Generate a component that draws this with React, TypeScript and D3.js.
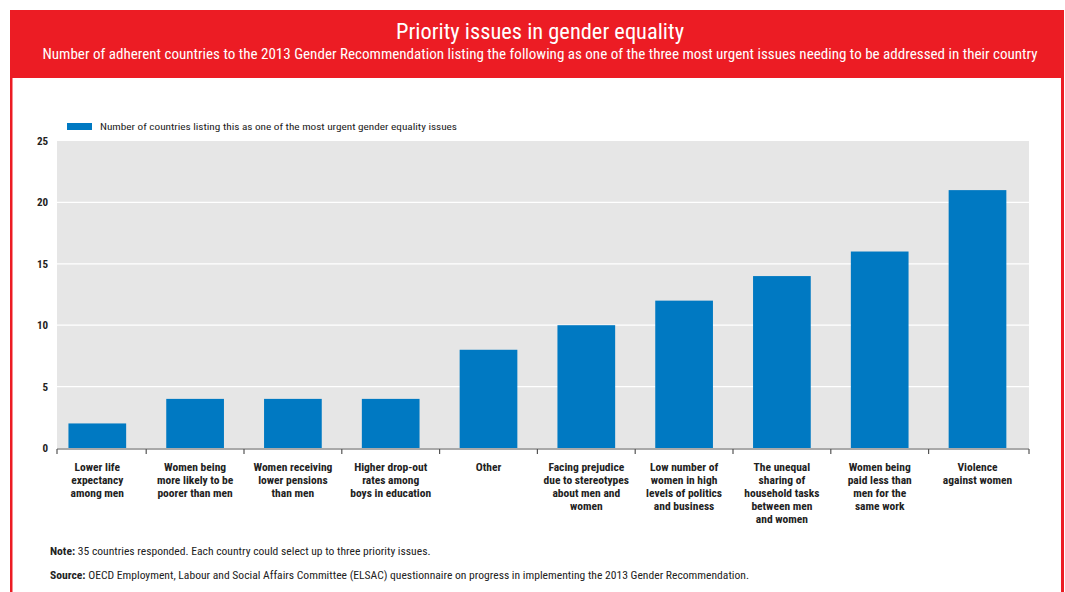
import React from "react";
import * as d3 from "d3";

const categories: string[][] = [
  ["Lower life", "expectancy", "among men"],
  ["Women being", "more likely to be", "poorer than men"],
  ["Women receiving", "lower pensions", "than men"],
  ["Higher drop-out", "rates among", "boys in education"],
  ["Other"],
  ["Facing prejudice", "due to stereotypes", "about men and", "women"],
  ["Low number of", "women in high", "levels of politics", "and business"],
  ["The unequal", "sharing of", "household tasks", "between men", "and women"],
  ["Women being", "paid less than", "men for the", "same work"],
  ["Violence", "against women"],
];
const values: number[] = [2, 4, 4, 4, 8, 10, 12, 14, 16, 21];
const yTicks: number[] = [0, 5, 10, 15, 20, 25];

const title = "Priority issues in gender equality";
const subtitle =
  "Number of adherent countries to the 2013 Gender Recommendation listing the following as one of the three most urgent issues needing to be addressed in their country";
const legendLabel = "Number of countries listing this as one of the most urgent gender equality issues";
const noteBold = "Note:";
const noteText = " 35 countries responded. Each country could select up to three priority issues.";
const sourceBold = "Source:";
const sourceText =
  " OECD Employment, Labour and Social Affairs Committee (ELSAC) questionnaire on progress in implementing the 2013 Gender Recommendation.";

const FONT = "'Liberation Sans Narrow', 'Roboto Condensed', 'Arial Narrow', 'Liberation Sans', sans-serif";

export default function App() {
  const W = 1065;
  const H = 592;
  const plotLeft = 57;
  const plotRight = 1029;
  const top = 141;
  const bottom = 448;
  const keys = categories.map((_, i) => String(i));
  const x = d3.scaleBand<string>().domain(keys).range([48.4, 1026.4]).paddingInner(0.41).paddingOuter(0.205);
  const band = d3.scaleBand<string>().domain(keys).range([48.4, 1026.4]);
  const y = d3.scaleLinear().domain([0, 25]).range([bottom, top]);
  const tickXs = [plotLeft, ...keys.slice(1).map((k) => band(k) as number), plotRight];

  return (
    <svg
      width={W}
      height={H}
      style={{ position: "absolute", left: 0, top: 0, display: "block" }}
      fontFamily={FONT}
    >
      <rect x={0} y={0} width={W} height={H} fill="#fff" />
      {/* red frame */}
      <rect x={10} y={10} width={1054} height={H} fill="#ec1c24" />
      <rect x={12.5} y={78} width={1048.5} height={H} fill="#fff" />
      <text x={540} y={39} textAnchor="middle" fill="#fff" fontSize={22} textLength={288} lengthAdjust="spacingAndGlyphs">
        {title}
      </text>
      <text x={540} y={59} textAnchor="middle" fill="#fff" fontSize={14} textLength={995} lengthAdjust="spacingAndGlyphs">
        {subtitle}
      </text>

      {/* legend */}
      <rect x={67} y={123} width={25} height={7} fill="#0079c2" />
      <text x={100} y={130} fontSize={9.5} fill="#222" textLength={357} lengthAdjust="spacingAndGlyphs">
        {legendLabel}
      </text>

      {/* plot background */}
      <rect x={plotLeft} y={top} width={plotRight - plotLeft} height={bottom - top} fill="#e6e6e6" />
      {yTicks
        .filter((t) => t > 0 && t < 25)
        .map((t) => (
          <line key={t} x1={plotLeft} x2={plotRight} y1={y(t)} y2={y(t)} stroke="#fff" strokeWidth={1.2} />
        ))}
      {yTicks.map((t) => (
        <text key={t} x={48} y={y(t) + 4} textAnchor="end" fontSize={11} fontWeight="bold" fill="#222">
          {t}
        </text>
      ))}

      {/* bars */}
      {values.map((v, i) => (
        <rect
          key={i}
          x={x(String(i))}
          y={y(v)}
          width={x.bandwidth()}
          height={y(0) - y(v)}
          fill="#0079c2"
        />
      ))}

      {/* x axis */}
      <line x1={plotLeft} x2={plotRight} y1={bottom + 1} y2={bottom + 1} stroke="#555" strokeWidth={1.2} />
      {tickXs.map((b, i) => (
        <line key={i} x1={b} x2={b} y1={bottom + 1} y2={bottom + 6} stroke="#555" strokeWidth={1.2} />
      ))}
      {categories.map((lines, i) => {
        const cx = (band(String(i)) as number) + band.bandwidth() / 2;
        return (
          <text key={i} x={cx} y={470.5} textAnchor="middle" fontSize={11.5} fontWeight="bold" fill="#222">
            {lines.map((l, j) => (
              <tspan key={j} x={cx} dy={j === 0 ? 0 : 13.2}>
                {l}
              </tspan>
            ))}
          </text>
        );
      })}

      {/* notes */}
      <text x={50} y={555} fontSize={11.6} fill="#222">
        <tspan fontWeight="bold">{noteBold}</tspan>
        <tspan>{noteText}</tspan>
      </text>
      <text x={50} y={579} fontSize={11.6} fill="#222">
        <tspan fontWeight="bold">{sourceBold}</tspan>
        <tspan>{sourceText}</tspan>
      </text>
    </svg>
  );
}
